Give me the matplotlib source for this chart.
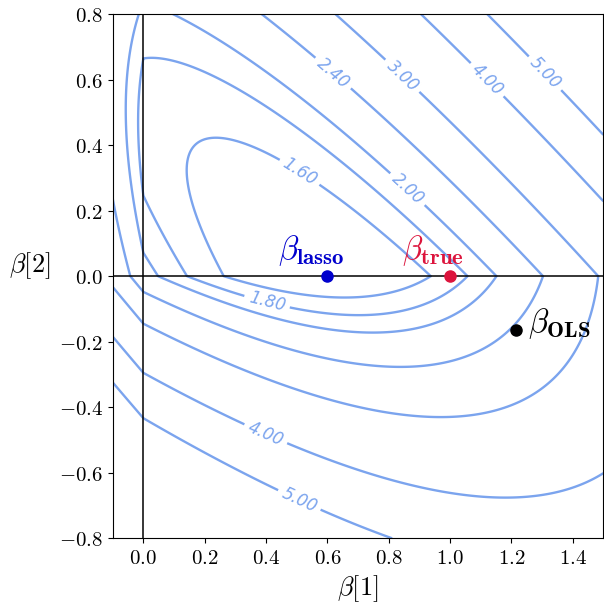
import numpy as np
import matplotlib
matplotlib.use("Agg")
import matplotlib.pyplot as plt
from matplotlib.ticker import FuncFormatter

plt.rcParams['mathtext.fontset'] = 'cm'

# lasso objective: (b - b_ols)' G (b - b_ols) + offset + lam * |b|_1
gram = [[2.1, 1.806], [1.806, 1.934]]
beta_ols = [1.22, -0.16]
loss_offset = -0.354
lam = 2.027

levels = [1.6, 1.8, 2.0, 2.4, 3.0, 4.0, 5.0]

beta_lasso = [0.6, 0.0]
beta_true = [1.0, 0.0]
ols_point = [1.216, -0.164]

# where the contour labels go
label_spots = [(0.51, 0.318), (0.402, -0.083), (0.858, 0.262), (0.608, 0.608),
               (0.836, 0.603), (1.113, 0.592), (1.303, 0.613),
               (0.402, -0.475), (0.516, -0.668)]

b1 = np.linspace(-0.1, 1.5, 641)
b2 = np.linspace(-0.8, 0.8, 641)
B1, B2 = np.meshgrid(b1, b2)
d1 = B1 - beta_ols[0]
d2 = B2 - beta_ols[1]
Z = (gram[0][0] * d1**2 + 2 * gram[0][1] * d1 * d2 + gram[1][1] * d2**2
     + loss_offset + lam * (np.abs(B1) + np.abs(B2)))

line_col = '#7ba4ee'

fig = plt.figure(figsize=(6.04, 6.15), dpi=100)
ax = fig.add_axes([0.1866, 0.1247, 0.8123, 0.8525])

cs = ax.contour(B1, B2, Z, levels=levels, colors=line_col, linewidths=1.7)
labels = ax.clabel(cs, fmt='%.2f', fontsize=12, manual=label_spots, inline=True)
for t in labels:
    t.set_fontstyle('italic')
    t.set_color(line_col)

ax.axhline(0, color='black', lw=1.1, zorder=3)
ax.axvline(0, color='black', lw=1.1, zorder=3)

ax.plot(*beta_lasso, 'o', color='mediumblue', ms=8, zorder=4)
ax.plot(*beta_true, 'o', color='crimson', ms=8, zorder=4)
ax.plot(*ols_point, 'o', color='black', ms=8, zorder=4)

ax.text(0.44, 0.052, r'$\beta_{\mathbf{lasso}}$', color='mediumblue', fontsize=23.5, zorder=5)
ax.text(0.845, 0.052, r'$\beta_{\mathbf{true}}$', color='crimson', fontsize=23.5, zorder=5)
ax.text(1.255, -0.17, r'$\beta_{\mathbf{OLS}}$', color='black', fontsize=23.5, zorder=5)

ax.set_xlim(-0.1, 1.5)
ax.set_ylim(-0.8, 0.8)
ax.set_xticks(np.arange(0.0, 1.41, 0.2))
ax.set_yticks(np.arange(-0.8, 0.81, 0.2))
fmt = FuncFormatter(lambda v, pos: r'$%.1f$' % (0.0 if abs(v) < 1e-9 else v))
ax.xaxis.set_major_formatter(fmt)
ax.yaxis.set_major_formatter(fmt)
ax.tick_params(labelsize=15)

ax.set_xlabel(r'$\beta[1]$', fontsize=19)
ax.set_ylabel(r'$\beta[2]$', fontsize=19, rotation=0, va='center', ha='center')
ax.yaxis.set_label_coords(-0.17, 0.52)

fig.savefig('out.png', dpi=100)
